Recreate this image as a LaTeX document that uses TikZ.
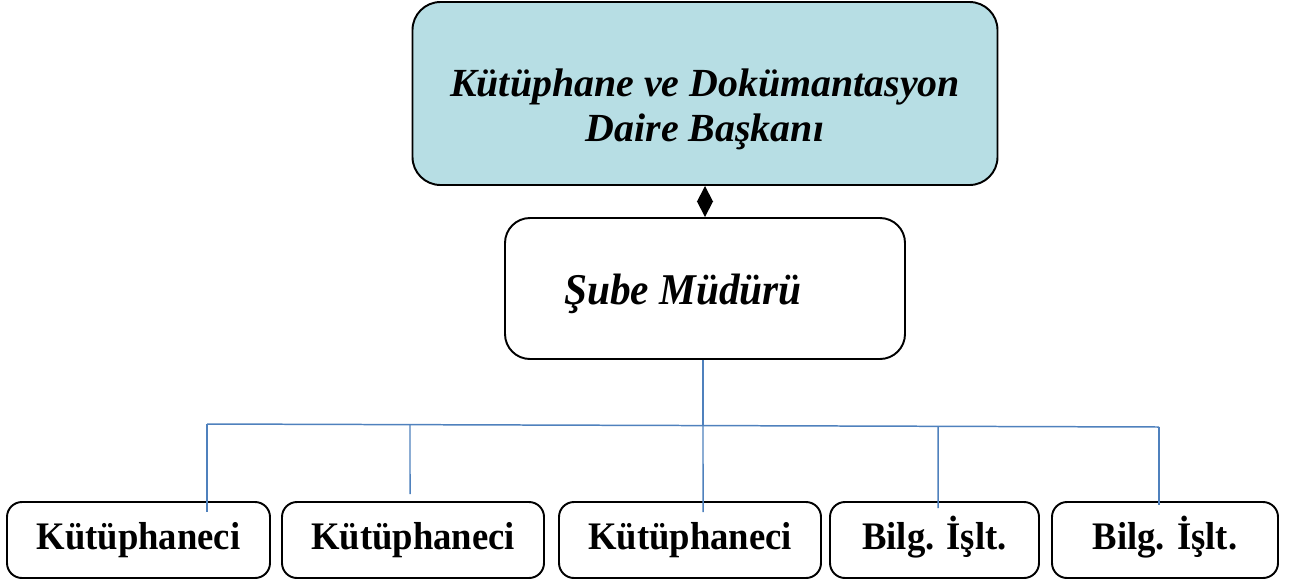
\documentclass[tikz,border=0pt]{standalone}
\usepackage{fontspec}
\setmainfont{Liberation Serif}
\newfontfamily\narrowserif[FakeStretch=0.94]{Liberation Serif}
\usetikzlibrary{calc, positioning, arrows.meta}

\definecolor{headfill}{RGB}{183,222,228}
\definecolor{linkblue}{RGB}{79,129,189}
\newcommand{\px}{0.02cm}

\begin{document}
\begin{tikzpicture}[x=\px, y=-\px,
                box/.style={draw, line width=1.1pt, rounded corners=15*\px, minimum height=76*\px, inner sep=0pt,
                            font=\narrowserif\fontsize{22.2}{25}\selectfont\bfseries},
                link/.style={draw=linkblue, line width=0.85pt}]
                \useasboundingbox (0,0) rectangle (1291,582);

                \node[draw, line width=1.1pt, fill=headfill, rounded corners=28*\px, minimum width=585*\px, minimum height=183*\px,
                      inner sep=0pt, font=\fontsize{22.7}{26.1}\selectfont\bfseries\itshape] (head) at (705,93.5)
                      {\raisebox{-0.05cm}[0pt][0pt]{\begin{tabular}[t]{@{}c@{}}Kütüphane ve Dokümantasyon\\ Daire Başkanı\end{tabular}}};

                \node[draw, line width=1.1pt, rounded corners=25*\px, minimum width=400*\px, minimum height=141*\px,
                      inner sep=0pt, font=\narrowserif\fontsize{25}{28}\selectfont\bfseries\itshape] (sube) at (705,288.5)
                      {\raisebox{-0.31cm}[0pt][0pt]{Şube Müdürü\hspace*{0.88cm}}};

                \draw[{Triangle[length=0.32cm, width=0.32cm]}-{Triangle[length=0.32cm, width=0.32cm]}, line width=1pt] (head) -- (sube);

                \foreach \n/\x/\w/\t in {k1/138.5/263/Kütüphaneci, k2/413/262/Kütüphaneci, k3/690/262/Kütüphaneci,
                                         b1/934.5/209/Bilg. İşlt., b2/1165/226/Bilg. İşlt.}
                \node[box, minimum width=\w*\px] (\n) at (\x,540) {\raisebox{-0.18cm}[0pt][0pt]{\t}};

                % bus under the Şube box
                \coordinate (hub) at (703,425.5);
                \coordinate (bus-l) at (207,424);
                \coordinate (bus-r) at (1159,427);
                \draw[link] (sube.south -| hub) -- (hub);
                \draw[link] (bus-l) -- (bus-r);
                \foreach \n/\x/\e in {k1/207/512, k2/410/494, k3/703/512, b1/938/508, b2/1159/505}
                \draw[link] ($(bus-l)!{(\x-207)/952}!(bus-r)$) -- (\x,\e) coordinate (\n-tip);
            \end{tikzpicture}
\end{document}
